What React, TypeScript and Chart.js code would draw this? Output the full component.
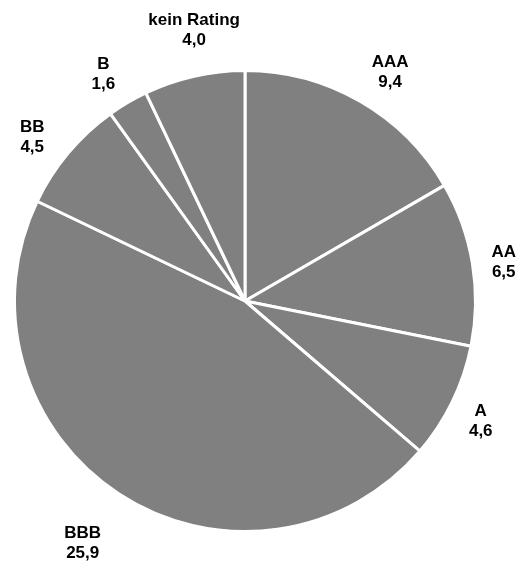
import React, { useEffect, useRef } from "react";
import { Chart, registerables } from "chart.js";

Chart.register(...registerables);

const categories = ["AAA", "AA", "A", "BBB", "BB", "B", "kein Rating"];
const values = [9.4, 6.5, 4.6, 25.9, 4.5, 1.6, 4.0];
const labelGaps = [40, 31, 34, 61, 38, 37, 45];
const labelAngleShift = [2.5, 1, 1, 0.7, -2.4, -1.4, 2.1];

const outsideLabels = {
  id: "outsideLabels",
  afterDatasetsDraw(chart: any) {
    const ctx = chart.ctx;
    const meta = chart.getDatasetMeta(0);
    ctx.save();
    ctx.font = "bold 17px 'Liberation Sans', Arial, sans-serif";
    ctx.fillStyle = "#000000";
    ctx.textAlign = "center";
    ctx.textBaseline = "middle";
    meta.data.forEach((arc: any, i: number) => {
      const p = arc.getProps(["x", "y", "startAngle", "endAngle", "outerRadius"], true);
      const mid = (p.startAngle + p.endAngle) / 2 + (labelAngleShift[i] * Math.PI) / 180;
      const d = p.outerRadius + labelGaps[i];
      const cx = p.x + Math.cos(mid) * d;
      const cy = p.y + Math.sin(mid) * d;
      ctx.fillText(categories[i], cx, cy - 10);
      ctx.fillText(values[i].toFixed(1).replace(".", ","), cx, cy + 10);
    });
    ctx.restore();
  },
};

export default function App() {
  const ref = useRef<HTMLCanvasElement>(null);
  useEffect(() => {
    if (!ref.current) return;
    const chart = new Chart(ref.current, {
      type: "pie",
      data: {
        labels: categories,
        datasets: [
          {
            data: values,
            backgroundColor: "#808080",
            borderColor: "#ffffff",
            borderWidth: 3,
          },
        ],
      },
      options: {
        responsive: false,
        animation: false,
        layout: { padding: { left: 13, right: 45, top: 69, bottom: 30 } },
        plugins: {
          legend: { display: false },
          tooltip: { enabled: false },
        },
      },
      plugins: [outsideLabels],
    });
    return () => chart.destroy();
  }, []);
  return (
    <div style={{ position: "fixed", left: 0, top: 0, width: 522, height: 563, background: "#fff" }}>
      <canvas ref={ref} width={522} height={563} />
    </div>
  );
}
